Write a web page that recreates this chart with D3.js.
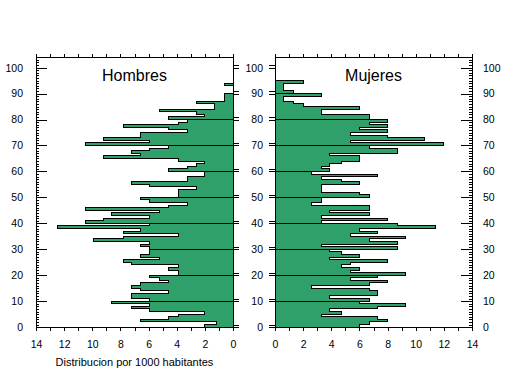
<!DOCTYPE html>
<html>
<head>
<meta charset="utf-8">
<script src="https://cdn.jsdelivr.net/npm/d3@7"></script>
<style>
  body { margin: 0; background: #fff; }
  text { font-family: "Liberation Sans", Arial, sans-serif; fill: #000; }
</style>
</head>
<body>
<svg id="chart" width="509" height="376"></svg>
<script>
// distribucion por 1000 habitantes, edad 0..94
var hombres = [2.0, 1.2, 6.6, 4.6, 3.9, 2.0, 5.9, 7.2, 5.9, 8.6,
               5.9, 7.2, 7.2, 4.6, 6.6, 7.2, 6.6, 4.6, 5.2, 5.9,
               3.9, 3.9, 4.6, 3.9, 7.2, 7.8, 5.2, 6.6, 5.9, 5.9,
               5.9, 6.6, 5.9, 9.9, 7.8, 3.9, 7.8, 6.6, 12.5, 5.9,
               10.5, 9.2, 5.9, 8.6, 5.2, 10.5, 4.6, 3.2, 5.9, 6.6,
               3.9, 3.9, 3.9, 2.6, 5.9, 7.2, 3.2, 3.2, 2.0, 2.0,
               4.6, 3.2, 2.6, 2.0, 3.9, 9.2, 6.6, 7.2, 5.9, 4.6,
               10.5, 5.9, 9.2, 6.6, 6.6, 3.2, 4.6, 7.8, 3.9, 3.2,
               4.6, 2.0, 2.6, 5.2, 1.3, 1.3, 2.6, 0.6, 0.6, 0.6,
               0, 0, 0, 0.6, 0];
var mujeres = [6.0, 6.7, 8.0, 7.3, 3.3, 4.7, 3.9, 7.3, 9.3, 6.0,
               6.7, 3.9, 7.3, 7.3, 6.7, 2.6, 6.7, 8.0, 5.4, 7.3,
               9.3, 5.4, 6.0, 4.7, 5.4, 8.0, 3.9, 6.0, 4.7, 3.9,
               8.7, 3.3, 8.7, 6.7, 9.3, 5.4, 7.3, 6.0, 11.4, 8.7,
               3.3, 8.0, 3.3, 6.7, 3.9, 6.7, 6.7, 2.6, 3.3, 3.3,
               6.7, 6.0, 3.3, 3.3, 3.3, 6.0, 4.7, 3.3, 7.3, 2.6,
               3.9, 3.3, 3.9, 4.7, 6.0, 6.0, 3.9, 8.7, 8.7, 6.7,
               12.0, 5.4, 10.6, 8.0, 5.4, 8.0, 6.0, 8.0, 6.7, 8.0,
               6.7, 6.7, 3.3, 3.3, 6.0, 2.0, 1.3, 0.6, 0.6, 3.3,
               1.3, 0.6, 0.6, 0.6, 2.0];

var xTicks = [0, 1, 2, 3, 4, 5, 6, 7, 8, 9, 10, 11, 12, 13, 14];
var yLabels = [0, 10, 20, 30, 40, 50, 60, 70, 80, 90, 100];
var gridAges = [10, 20, 30, 40, 50, 60, 70, 80, 90];

var svg = d3.select("#chart");
var verde = "#30a06a";

var y = d3.scaleLinear().domain([0, 104.1]).range([327.1, 57]);
var yMinor = d3.range(0, 105);

var panels = [
  { titulo: "Hombres", datos: hombres, x: d3.scaleLinear().domain([14, 0]).range([36, 233]), lado: "izq" },
  { titulo: "Mujeres", datos: mujeres, x: d3.scaleLinear().domain([0, 14]).range([275, 472]), lado: "der" }
];

panels.forEach(function (p) {
  var g = svg.append("g");
  var x = p.x;
  var x0 = x(0);

  // silueta escalonada
  var pts = p.datos.map(function (v, i) { return { edad: i, v: v }; });
  pts.push({ edad: p.datos.length, v: p.datos[p.datos.length - 1] });

  var area = d3.area()
      .curve(d3.curveStepBefore)
      .y(function (d) { return y(d.edad); })
      .x0(x0)
      .x1(function (d) { return x(d.v); });

  g.append("path")
      .datum(pts)
      .attr("d", area)
      .attr("fill", verde)
      .attr("stroke", "#000")
      .attr("stroke-width", 1)
      .attr("shape-rendering", "crispEdges");

  // lineas de decada sobre las barras
  g.selectAll(".grid")
      .data(gridAges)
      .enter()
      .append("line")
      .attr("x1", x0)
      .attr("x2", function (a) { return x(Math.max(p.datos[a], p.datos[a - 1])); })
      .attr("y1", function (a) { return y(a); })
      .attr("y2", function (a) { return y(a); })
      .attr("stroke", "#000")
      .attr("shape-rendering", "crispEdges");

  // marco
  var left = d3.min(x.range()), right = d3.max(x.range());
  g.append("rect")
      .attr("x", left).attr("y", y.range()[1])
      .attr("width", right - left).attr("height", y.range()[0] - y.range()[1])
      .attr("fill", "none").attr("stroke", "#000")
      .attr("shape-rendering", "crispEdges");

  // eje superior
  g.append("g")
      .attr("transform", "translate(0," + y.range()[1] + ")")
      .call(d3.axisTop(x).tickValues(xTicks).tickSize(3).tickSizeOuter(0).tickFormat(""));

  // eje inferior
  g.append("g")
      .attr("transform", "translate(0," + y.range()[0] + ")")
      .call(d3.axisBottom(x).tickValues(xTicks).tickSize(4).tickSizeOuter(0).tickPadding(9)
        .tickFormat(function (d) { return d % 2 ? "" : d; }));

  // ejes verticales
  var outerX = p.lado === "izq" ? left : right;
  var innerX = p.lado === "izq" ? right : left;
  var outerAxis = p.lado === "izq" ? d3.axisLeft : d3.axisRight;
  var innerAxis = p.lado === "izq" ? d3.axisRight : d3.axisLeft;

  // exterior: marcas hacia dentro
  g.append("g")
      .attr("transform", "translate(" + outerX + ",0)")
      .call(outerAxis(y).tickValues(yMinor).tickSize(-3).tickSizeOuter(0).tickFormat(""));
  g.append("g")
      .attr("transform", "translate(" + outerX + ",0)")
      .call(outerAxis(y).tickValues(yLabels).tickSize(-11).tickSizeOuter(0)
        .tickPadding(p.lado === "izq" ? 13 : 11));

  // interior: marcas dobles hacia fuera
  [0, -2.4].forEach(function (off) {
    g.append("g")
        .attr("transform", "translate(" + innerX + "," + off + ")")
        .call(innerAxis(y).tickValues(yLabels).tickSize(6).tickSizeOuter(0)
          .tickPadding(6)
          .tickFormat(p.lado === "der" && off === 0 ? null : ""));
  });

  // titulo del panel
  g.append("text")
      .attr("x", (left + right) / 2)
      .attr("y", 81)
      .attr("text-anchor", "middle")
      .attr("font-size", 16)
      .text(p.titulo);
});

svg.selectAll(".domain").remove();
svg.selectAll(".tick line").attr("shape-rendering", "crispEdges");
svg.selectAll(".tick text")
    .attr("font-family", "'Liberation Sans', Arial, sans-serif")
    .attr("font-size", 10.5);

// titulo del eje x
svg.append("text")
    .attr("x", 134.5)
    .attr("y", 366)
    .attr("text-anchor", "middle")
    .attr("font-size", 11)
    .text("Distribucion por 1000 habitantes");
</script>
</body>
</html>
